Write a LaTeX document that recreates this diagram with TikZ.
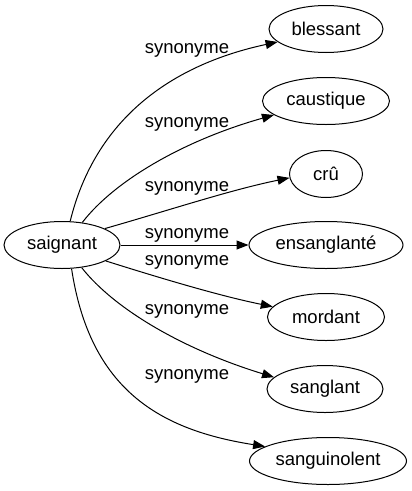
\documentclass[tikz,border=0pt]{standalone}
\usepackage{fontspec}
\setmainfont{Liberation Sans}
\usetikzlibrary{shapes.geometric,arrows.meta}
\begin{document}
\begin{tikzpicture}[x=1pt,y=-1pt,
  word/.style={draw,ellipse,line width=1pt,inner sep=0pt,minimum height=47pt,font=\fontsize{18.5}{20}\selectfont},
  lbl/.style={inner sep=0pt,font=\fontsize{18.5}{20}\selectfont},
  edge/.style={line width=1pt,-{Triangle[length=12pt,width=9pt]}}]
\useasboundingbox (0,0) rectangle (412,491);
\node[word,minimum width=116pt] (s) at (62,245) {saignant};
\node[word,minimum width=114pt] (b) at (326,29) {blessant};
\node[word,minimum width=127pt] (c) at (326,101) {caustique};
\node[word,minimum width=73pt] (r) at (326,174) {crû};
\node[word,minimum width=154pt] (e) at (326,245) {ensanglanté};
\node[word,minimum width=117pt] (m) at (326,317) {mordant};
\node[word,minimum width=116pt] (g) at (325,389) {sanglant};
\node[word,minimum width=157pt] (u) at (328,461) {sanguinolent};
\draw[edge] (s.71) .. controls (95,120) and (170,65) .. (b.195);
\draw[edge] (s.48) .. controls (115,180) and (185,140) .. (c.195);
\draw[edge] (s.21) .. controls (170,210) and (230,190) .. (r.186);
\draw[edge] (s.east) -- (e.west);
\draw[edge] (s.340) .. controls (160,278) and (220,296) .. (m.169);
\draw[edge] (s.311) .. controls (115,310) and (185,350) .. (g.167);
\draw[edge] (s.292) .. controls (90,390) and (160,430) .. (u.167);
\node[lbl] (l1) at (187,50) {synonyme};
\node[lbl] (l2) at (187,124) {synonyme};
\node[lbl] (l3) at (187,188) {synonyme};
\node[lbl] (l4) at (187,235) {synonyme};
\node[lbl] (l5) at (187,262) {synonyme};
\node[lbl] (l6) at (187,311) {synonyme};
\node[lbl] (l7) at (187,376) {synonyme};
\end{tikzpicture}
\end{document}
